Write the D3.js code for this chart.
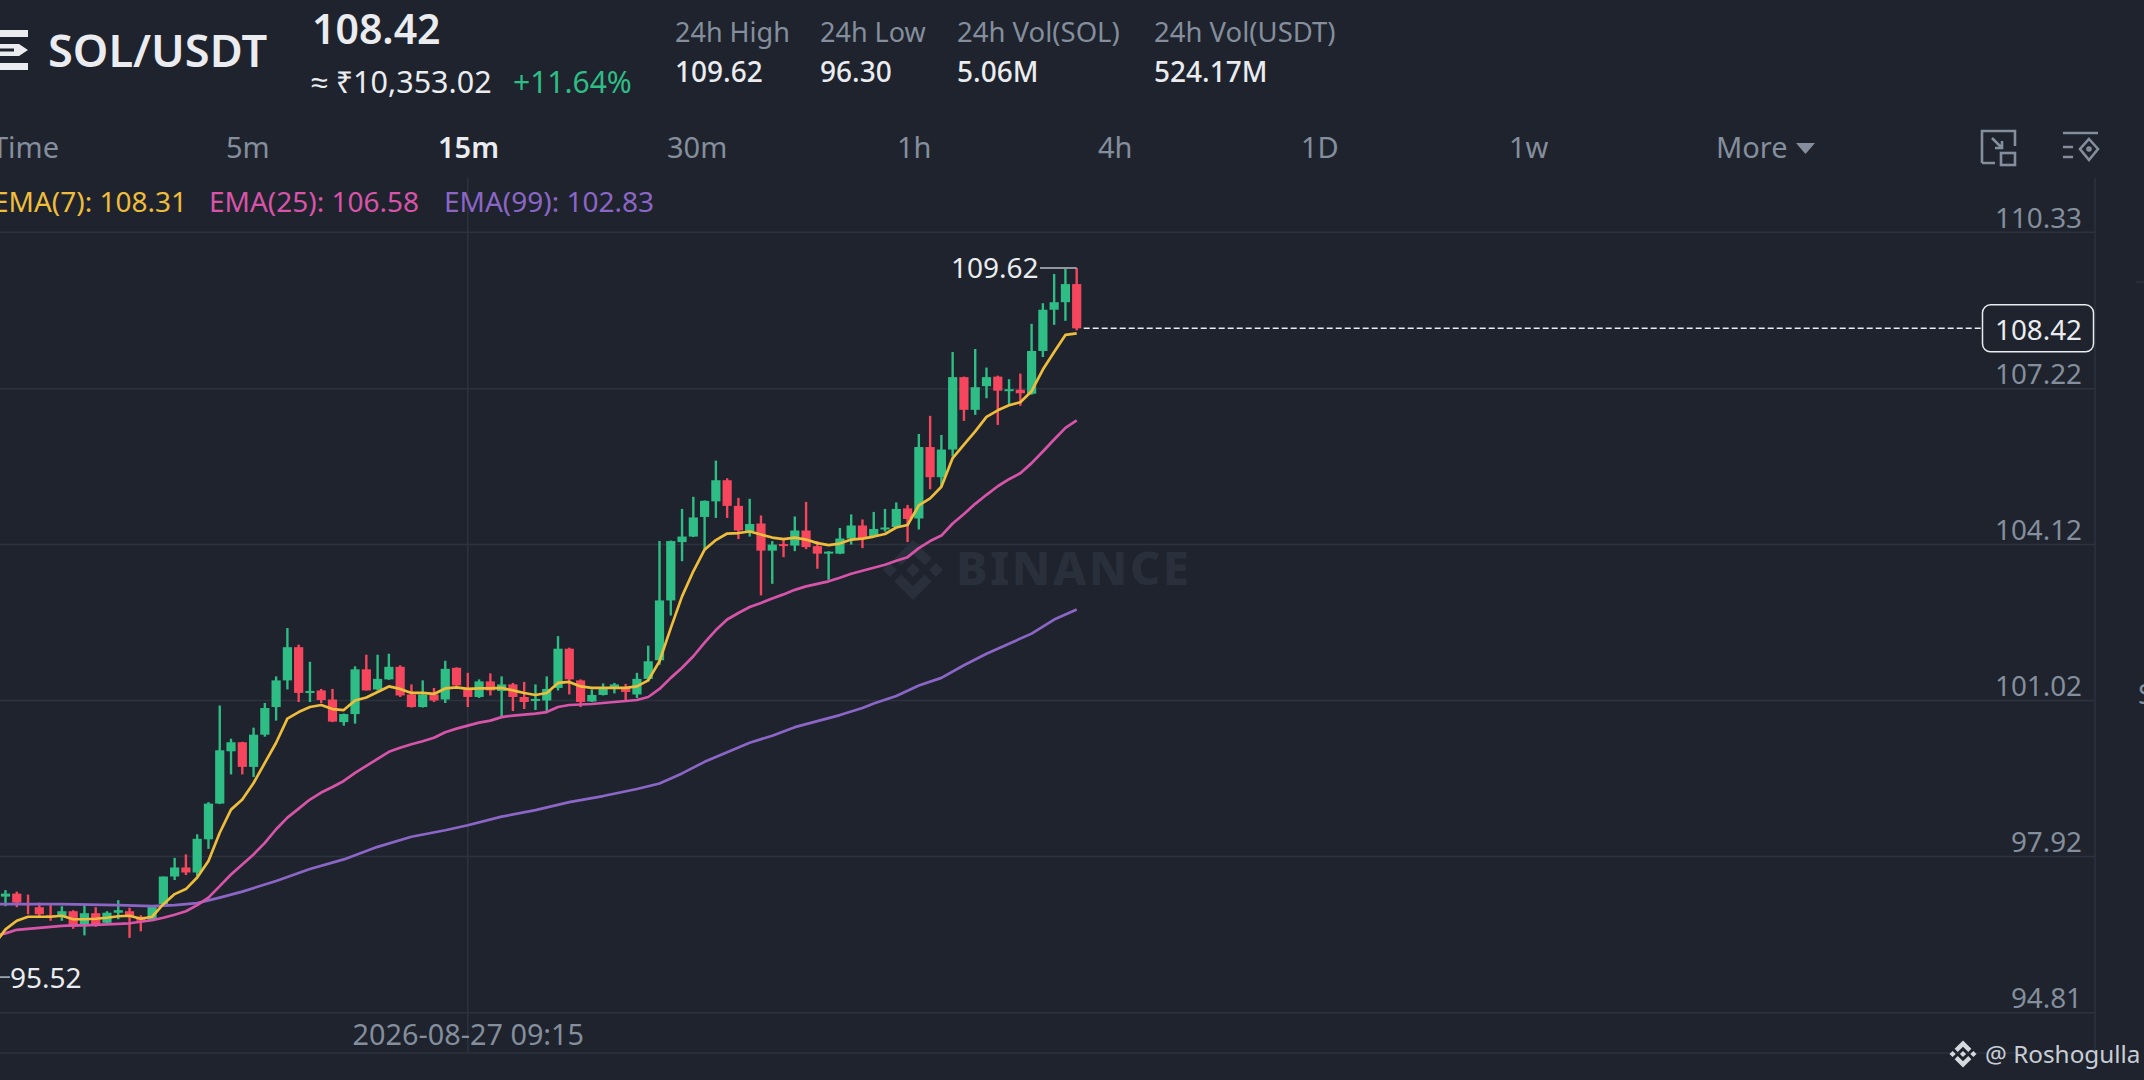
<!DOCTYPE html>
<html>
<head>
<meta charset="utf-8">
<script src="https://cdn.jsdelivr.net/npm/d3@7"></script>
<style>
html,body{margin:0;padding:0;background:#1e232d;overflow:hidden}
svg{display:block}
text{font-family:"Noto Sans",sans-serif}
</style>
</head>
<body>
<svg id="c" width="2144" height="1080"></svg>
<script>
const opens=[97.12,97.18,96.99,96.91,96.75,96.72,96.83,96.55,96.79,96.60,
96.80,96.83,96.72,96.66,96.97,97.52,97.70,97.60,98.26,98.97,
100.01,100.19,99.70,100.34,100.89,101.42,102.08,101.17,101.22,101.04,
100.59,100.75,101.64,101.24,101.44,101.69,101.14,100.89,101.14,101.04,
101.67,101.27,101.09,101.40,101.21,101.34,101.09,101.02,101.02,101.27,
102.05,101.42,101.00,101.13,101.26,101.27,101.14,101.45,101.82,103.01,
104.17,104.28,104.67,104.98,105.40,104.89,104.38,104.54,104.00,104.13,
104.10,104.40,104.09,103.94,103.94,104.24,104.50,104.28,104.42,104.47,
104.84,104.64,106.06,105.46,106.01,107.45,106.80,107.27,107.46,107.18,
107.20,107.12,107.97,108.79,108.94,109.30];
const closes=[97.18,97.00,96.95,96.77,96.72,96.83,96.52,96.79,96.54,96.80,
96.85,96.72,96.64,96.92,97.52,97.70,97.60,98.27,98.97,100.03,
100.19,99.70,100.34,100.87,101.42,102.08,101.17,101.21,101.03,100.60,
100.75,101.64,101.22,101.45,101.69,101.12,100.89,101.14,101.02,101.65,
101.32,101.09,101.40,101.22,101.34,101.09,100.99,101.05,101.25,102.05,
101.44,100.99,101.13,101.27,101.34,101.19,101.45,101.80,103.01,104.19,
104.28,104.66,104.99,105.40,104.89,104.40,104.53,104.00,104.12,104.09,
104.40,104.07,103.94,103.98,104.24,104.50,104.24,104.43,104.46,104.83,
104.63,106.06,105.46,106.01,107.45,106.80,107.25,107.45,107.18,107.21,
107.13,107.97,108.79,108.94,109.30,108.42];
const highs=[97.25,97.22,97.16,97.00,96.95,96.93,96.85,96.97,96.91,96.83,
97.05,96.90,96.75,96.93,97.52,97.89,97.96,98.36,99.00,100.92,
100.26,100.20,100.48,100.97,101.50,102.46,102.13,101.79,101.25,101.25,
100.76,101.70,101.93,101.93,101.95,101.72,101.34,101.42,101.27,101.81,
101.68,101.57,101.44,101.56,101.50,101.37,101.39,101.34,101.50,102.30,
102.07,101.44,101.24,101.36,101.37,101.35,101.57,102.11,104.19,104.20,
104.83,105.07,105.00,105.79,105.44,105.05,105.03,104.70,104.19,104.22,
104.68,104.97,104.19,103.99,104.45,104.72,104.62,104.77,104.83,104.96,
104.91,106.32,106.68,106.30,107.95,107.46,108.01,107.64,107.48,107.41,
107.52,108.51,108.92,109.50,109.60,109.62];
const lows=[96.93,96.91,96.77,96.72,96.64,96.64,96.48,96.35,96.52,96.57,
96.67,96.30,96.43,96.64,96.95,97.45,97.55,97.53,98.07,98.96,
99.55,99.55,99.50,100.30,100.62,101.24,100.99,100.99,100.97,100.59,
100.52,100.56,101.22,101.22,101.43,101.09,100.88,100.88,100.99,100.97,
101.31,100.89,101.07,101.12,100.71,100.81,100.85,100.83,100.81,101.22,
101.14,100.89,100.99,101.12,101.16,101.02,101.07,101.40,101.73,102.71,
103.79,104.27,104.01,104.65,104.65,104.23,104.28,103.11,103.34,103.87,
103.99,104.03,103.64,103.42,103.93,104.12,104.05,104.27,104.38,104.46,
104.17,104.42,105.22,105.28,105.87,106.58,106.70,107.03,106.50,106.90,
106.88,107.10,107.85,108.49,108.57,108.38];
const ema7=[96.17,96.47,96.64,96.72,96.72,96.72,96.74,96.67,96.67,96.68,96.70,
96.73,96.74,96.68,96.72,96.97,97.17,97.27,97.50,97.83,98.39,
98.85,99.05,99.38,99.78,100.18,100.66,100.79,100.89,100.93,100.85,
100.83,101.02,101.08,101.19,101.30,101.25,101.17,101.17,101.15,101.26,
101.28,101.25,101.26,101.26,101.27,101.22,101.17,101.13,101.17,101.37,
101.39,101.30,101.27,101.27,101.27,101.27,101.30,101.42,101.80,102.46,
103.09,103.59,104.02,104.21,104.34,104.35,104.38,104.32,104.26,104.23,
104.26,104.22,104.15,104.11,104.14,104.22,104.24,104.28,104.33,104.46,
104.51,104.90,105.04,105.27,105.84,106.11,106.37,106.66,106.79,106.89,
106.95,107.17,107.60,107.95,108.29,108.32];
const ema25=[96.34,96.39,96.46,96.48,96.50,96.52,96.54,96.55,96.55,96.56,96.57,
96.58,96.59,96.62,96.65,96.70,96.76,96.83,96.95,97.10,97.33,
97.56,97.76,97.96,98.19,98.46,98.69,98.87,99.05,99.19,99.30,
99.42,99.58,99.72,99.86,100.00,100.08,100.15,100.21,100.28,100.39,
100.46,100.52,100.58,100.62,100.69,100.72,100.74,100.76,100.79,100.89,
100.93,100.94,100.95,100.97,100.99,101.01,101.03,101.09,101.25,101.47,
101.67,101.90,102.17,102.42,102.63,102.76,102.88,102.96,103.05,103.13,
103.22,103.29,103.34,103.39,103.46,103.54,103.60,103.66,103.72,103.80,
103.87,104.05,104.19,104.30,104.54,104.73,104.93,105.11,105.28,105.42,
105.54,105.74,105.97,106.21,106.44,106.59];
const ema99Index=[-1,0,5,10,13,15,17,19,21,24,27,30,33,36,39,41,44,47,50,53,56,58,60,62,64,66,68,70,72,74,76,77,79,81,83,85,87,89,91,93,95];
const ema99=[96.97,96.97,96.97,96.95,96.93,96.95,96.99,97.10,97.22,97.43,97.67,97.86,98.11,98.31,98.44,98.54,98.71,98.84,99.00,99.12,99.26,99.37,99.57,99.80,99.99,100.18,100.32,100.49,100.61,100.73,100.87,100.96,101.11,101.32,101.47,101.72,101.95,102.15,102.35,102.63,102.83];
const priceTicks=[110.33,107.22,104.12,101.02,97.92,94.81];
const timeTickIndex=[41];
const timeTickLabels=["2026-08-27 09:15"];
const lastPrice=108.42, highPrice=109.62, lowPrice=95.52, highIndex=95;
const intervals=["5m","15m","30m","1h","4h","1D","1w","More"];
const stats=[["24h High","109.62"],["24h Low","96.30"],["24h Vol(SOL)","5.06M"],["24h Vol(USDT)","524.17M"]];
const legend=[["EMA(7): 108.31"],["EMA(25): 106.58"],["EMA(99): 102.83"]];

const GREEN="#2ebd85",RED="#f6465d",GRID="#2d333e",GRAY="#848e9c",WHITE="#eaecef";
const YEL="#eebd3c",PINK="#d754a9",PUR="#8b66c6";
const svg=d3.select("#c");
const x=d3.scaleLinear().domain([0,95]).range([5.5,1076.7]);
const y=d3.scaleLinear().domain([94.81,110.33]).range([1012.8,232.3]);

function txt(g,s,px,py,size,fill,opt={}){
  return g.append("text").attr("x",px).attr("y",py).attr("font-size",size).attr("fill",fill)
   .attr("font-weight",opt.w||400).attr("text-anchor",opt.a||"start").text(s);
}
function logo(g,cx,cy,r,fill){
  const t=g.append("g").attr("transform",`translate(${cx},${cy}) scale(${r})`).attr("fill",fill);
  const d=[[-.77,0],[.77,0],[0,0]];
  d.forEach(p=>t.append("path").attr("d",`M${p[0]-.23},${p[1]}L${p[0]},${p[1]-.23}L${p[0]+.23},${p[1]}L${p[0]},${p[1]+.23}Z`));
  t.append("path").attr("d","M0,-1L.62,-.38L.39,-.15L0,-.54L-.39,-.15L-.62,-.38Z");
  t.append("path").attr("d","M0,1L.62,.38L.39,.15L0,.54L-.39,.15L-.62,.38Z");
}

// grid
const grid=svg.append("g");
priceTicks.forEach(p=>grid.append("line").attr("x1",0).attr("x2",2095).attr("y1",y(p)).attr("y2",y(p)).attr("stroke",GRID).attr("stroke-width",1.5));
timeTickIndex.forEach(i=>grid.append("line").attr("x1",x(i)).attr("x2",x(i)).attr("y1",178).attr("y2",1053).attr("stroke",GRID).attr("stroke-width",1.5));
grid.append("line").attr("x1",0).attr("x2",2095).attr("y1",1053).attr("y2",1053).attr("stroke",GRID).attr("stroke-width",1.5);
grid.append("line").attr("x1",2095).attr("x2",2095).attr("y1",178).attr("y2",1053).attr("stroke",GRID).attr("stroke-width",1.5);

// watermark
logo(svg,913,570,30,"#2a303b");
txt(svg,"BINANCE",956,585,47,"#2a303b",{w:800}).attr("letter-spacing",2.5);

// candles
const idx=d3.range(opens.length);
const cg=svg.append("g");
cg.selectAll("line.w").data(idx).join("line").attr("class","w")
 .attr("x1",i=>x(i)).attr("x2",i=>x(i)).attr("y1",i=>y(highs[i])).attr("y2",i=>y(lows[i]))
 .attr("stroke",i=>closes[i]>=opens[i]?GREEN:RED).attr("stroke-width",2.4);
cg.selectAll("rect").data(idx).join("rect")
 .attr("x",i=>x(i)-4.6).attr("width",9.2)
 .attr("y",i=>y(Math.max(opens[i],closes[i])))
 .attr("height",i=>Math.max(2,Math.abs(y(opens[i])-y(closes[i]))))
 .attr("fill",i=>closes[i]>=opens[i]?GREEN:RED);

// EMA lines
const line=d3.line().x(d=>x(d[0])).y(d=>y(d[1]));
const emaIndex=d3.range(-1,96);
[[emaIndex,ema99,PUR],[emaIndex,ema25,PINK],[emaIndex,ema7,YEL]].forEach(([ix,v,c],k)=>{
  const ii=k==0?ema99Index:ix;
  svg.append("path").attr("d",line(ii.map((d,j)=>[d,v[j]]))).attr("fill","none").attr("stroke",c).attr("stroke-width",2.7).attr("stroke-linejoin","round");
});

// last price
svg.append("line").attr("x1",x(95)+7).attr("x2",1982).attr("y1",y(lastPrice)).attr("y2",y(lastPrice)).attr("stroke",WHITE).attr("stroke-width",1.5).attr("stroke-dasharray","6 3");
svg.append("rect").attr("x",1982.5).attr("y",y(lastPrice)-23.5).attr("width",111).attr("height",47).attr("rx",8).attr("fill","#1e232d").attr("stroke",WHITE).attr("stroke-width",1.5);

// high / low
svg.append("path").attr("d",`M1040,${y(highPrice)}H${x(highIndex)}`).attr("stroke","#b7bdc6").attr("stroke-width",1.5).attr("fill","none");
txt(svg,d3.format(".2f")(highPrice),951,278,28,WHITE);
svg.append("path").attr("d",`M0,${y(lowPrice)}H10`).attr("stroke","#b7bdc6").attr("stroke-width",1.5);
txt(svg,d3.format(".2f")(lowPrice),10,988,28,WHITE);

// axes
const ay=svg.append("g").attr("transform","translate(2082,0)").call(d3.axisLeft(y).tickValues(priceTicks).tickSize(0).tickPadding(0).tickFormat(d3.format(".2f")));
ay.select(".domain").remove();
ay.selectAll("text").attr("fill",GRAY).attr("font-size",27.8).attr("dy",-5).attr("font-family",'"Noto Sans",sans-serif');
const ax=svg.append("g").attr("transform","translate(0,1045)").call(d3.axisBottom(x).tickValues(timeTickIndex).tickSize(0).tickPadding(0).tickFormat(d=>timeTickLabels[timeTickIndex.indexOf(d)]));
ax.select(".domain").remove();
ax.selectAll("text").attr("fill",GRAY).attr("font-size",28.8).attr("dy",0).attr("y",0).attr("font-family",'"Noto Sans",sans-serif');
txt(svg,d3.format(".2f")(lastPrice),2082,339.5,27.8,WHITE,{a:"end"});

// header
const h=svg.append("g");
h.append("path").attr("d","M0,30H28V37H0ZM0,44H19L28,50L19,56H0ZM0,63H28V70H0Z").attr("fill",WHITE);
h.append("path").attr("d","M0,50H14").attr("stroke","#1e232d").attr("stroke-width",3);
txt(h,"SOL/USDT",48,67,45.2,WHITE,{w:600});
txt(h,"108.42",312,44,41,WHITE,{w:600});
txt(h,"≈ ₹10,353.02",311,93,30.5,WHITE);
txt(h,"+11.64%",513,93,30,GREEN);
const statX=[675,820,957,1154];
const statSize=[27,27,27.5,27.5];
stats.forEach((s,i)=>{txt(h,s[0],statX[i],41.5,statSize[i],GRAY);txt(h,s[1],statX[i],81.5,28,WHITE,{w:500});});
txt(h,"Time",59,158,29,GRAY,{a:"end"});
const tabX=[226,438,667,897,1098,1301,1509,1716];
intervals.forEach((s,i)=>txt(h,s,tabX[i],158,29,s==="15m"?WHITE:GRAY,{w:s==="15m"?600:400}));
h.append("path").attr("d","M1796,143H1815L1805.5,154Z").attr("fill",GRAY);
const legX=[-7,209,444],legC=[YEL,PINK,PUR];
legend.forEach((s,i)=>txt(h,s[0],legX[i],212,28,legC[i]));
// tool icons
const ic=h.append("g").attr("fill","none").attr("stroke",GRAY).attr("stroke-width",2.6);
ic.append("path").attr("d","M1982,163V131H2015V146M1982,163H1995");
ic.append("rect").attr("x",2001).attr("y",153).attr("width",14).attr("height",12);
ic.append("path").attr("d","M1992,138L2002,148M2002,141V148H1995");
ic.append("path").attr("d","M2063,133H2098M2063,147H2073M2063,157H2073M2089,139L2098,149L2089,160L2080,149Z");
ic.append("circle").attr("cx",2089).attr("cy",149).attr("r",1.5);

// edge marks
svg.append("line").attr("x1",2136).attr("x2",2144).attr("y1",282).attr("y2",282).attr("stroke",GRID).attr("stroke-width",1.5);
txt(svg,"S",2138,704,27.5,GRAY);

// footer
logo(svg,1963,1054,13.5,"#d5d8dd");
txt(svg,"@ Roshogulla",1985,1063,24.3,"#c9ced6");
</script>
</body>
</html>
